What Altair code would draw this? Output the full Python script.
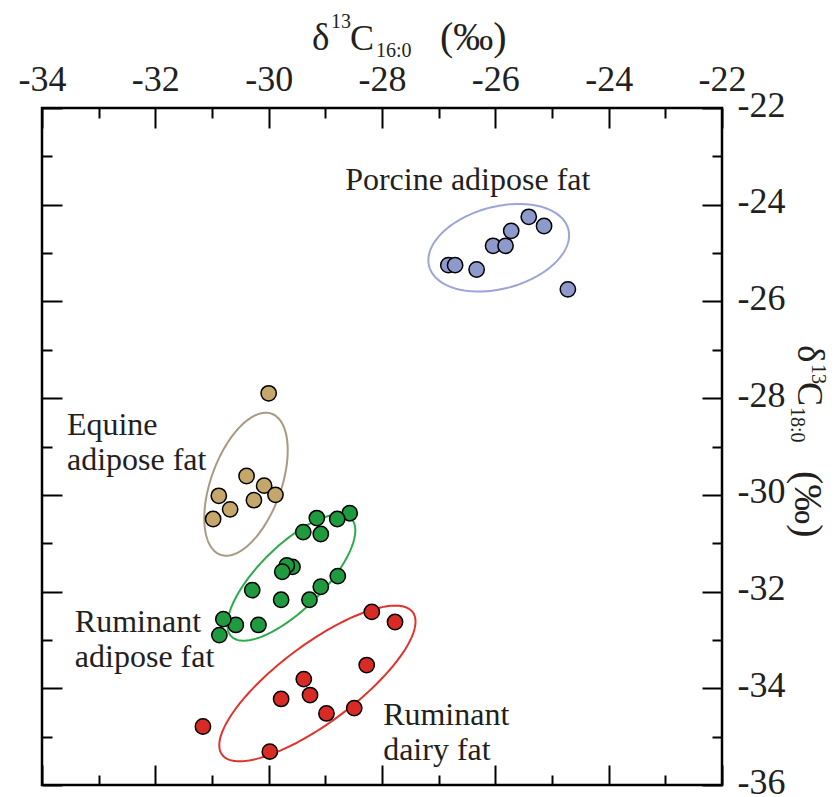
import altair as alt
import numpy as np
import pandas as pd

# ---------------- data ----------------
groups = ["Porcine adipose fat", "Equine adipose fat", "Ruminant adipose fat", "Ruminant dairy fat"]

porcine_x = [-26.83, -26.71, -26.33, -26.04, -25.82, -25.72, -25.41, -25.14, -24.72]
porcine_y = [-25.25, -25.25, -25.34, -24.85, -24.85, -24.54, -24.25, -24.44, -25.75]

equine_x = [-30.00, -30.39, -30.08, -29.88, -30.26, -30.88, -30.68, -30.98]
equine_y = [-27.90, -29.61, -29.81, -30.00, -30.11, -30.02, -30.30, -30.50]

rum_adipose_x = [-28.57, -28.79, -29.15, -29.08, -29.39, -29.58, -29.68, -29.76, -28.78,
                 -29.08, -29.28, -29.78, -30.29, -30.18, -30.58, -30.80, -30.87]
rum_adipose_y = [-30.38, -30.50, -30.48, -30.81, -30.77, -31.49, -31.46, -31.59, -31.68,
                 -31.90, -32.17, -32.17, -31.97, -32.69, -32.69, -32.57, -32.90]

rum_dairy_x = [-28.18, -27.77, -28.27, -29.38, -29.27, -29.78, -28.98, -28.49, -31.16, -29.98]
rum_dairy_y = [-32.42, -32.63, -33.52, -33.81, -34.14, -34.22, -34.52, -34.41, -34.79, -35.31]

# confidence ellipses: centre (data units), semi-axes (screen px), rotation (deg, screen)
ell_cx = [-25.94, -30.40, -29.60, -29.14]
ell_cy = [-24.89, -29.78, -31.71, -33.90]
ell_a = [72, 75, 84, 119]
ell_b = [41, 35, 32, 39]
ell_rot = [15, 70, 44.5, 36.8]

label_text = ["Porcine adipose fat", "Equine", "adipose fat", "Ruminant", "adipose fat", "Ruminant", "dairy fat"]
label_x = [-28.65, -33.56, -33.56, -33.42, -33.42, -27.98, -27.98]
label_y = [-23.70, -28.76, -29.49, -32.84, -33.56, -34.76, -35.48]

x_ticks_major = list(range(-34, -21, 2))
y_ticks_major = list(range(-36, -21, 2))
x_ticks_all = list(range(-34, -21))
y_ticks_all = list(range(-36, -21))

fill_colors = ["#8e99cc", "#c5a66b", "#1f9a3f", "#d92b26"]
line_colors = ["#9ba5d7", "#a89a84", "#2bab4b", "#e2322c"]

# ---------------- layout ----------------
W, H = 680, 677
XDOM, YDOM = [-34, -22], [-36, -22]
PXX = W / (XDOM[1] - XDOM[0])
PXY = H / (YDOM[1] - YDOM[0])
FONT = "Liberation Serif"
INK = "#231f20"

pts = pd.concat([
    pd.DataFrame({"x": porcine_x, "y": porcine_y, "group": groups[0]}),
    pd.DataFrame({"x": equine_x, "y": equine_y, "group": groups[1]}),
    pd.DataFrame({"x": rum_adipose_x, "y": rum_adipose_y, "group": groups[2]}),
    pd.DataFrame({"x": rum_dairy_x, "y": rum_dairy_y, "group": groups[3]}),
], ignore_index=True)

rows = []
t = np.linspace(0, 2 * np.pi, 181)
for g, cx, cy, a, b, r in zip(groups, ell_cx, ell_cy, ell_a, ell_b, ell_rot):
    th = np.deg2rad(r)
    u, v = a * np.cos(t), b * np.sin(t)
    dx = u * np.cos(th) - v * np.sin(th)
    dy = u * np.sin(th) + v * np.cos(th)
    for i in range(len(t)):
        rows.append({"group": g, "i": i, "x": cx + dx[i] / PXX, "y": cy + dy[i] / PXY})
ell = pd.DataFrame(rows)

labels = pd.DataFrame({"label": label_text, "x": label_x, "y": label_y})

xscale = alt.Scale(domain=XDOM, nice=False, zero=False)
yscale = alt.Scale(domain=YDOM, nice=False, zero=False)

tick_size = {"condition": {"test": "datum.value % 2 === 0", "value": 20}, "value": 10}
hyphen_label = "datum.value < 0 ? '-' + abs(datum.value) : '' + datum.value"

common_tick = dict(labels=False, domain=False, grid=False, title=None, tickSize=tick_size,
                   tickWidth=2, tickColor="black")

xa_labels = alt.Axis(orient="top", values=x_ticks_major, ticks=False, domain=False, grid=False,
                     title=None, labelPadding=18, labelBaseline="alphabetic", labelFlush=False,
                     labelOverlap=False, labelBound=False, labelExpr=hyphen_label)
xa_top = alt.Axis(orient="bottom", offset=-H, values=x_ticks_all, **common_tick)
xa_bot = alt.Axis(orient="top", offset=-H, values=x_ticks_all, **common_tick)
ya_labels = alt.Axis(orient="right", values=y_ticks_major, ticks=False, domain=False, grid=False,
                     title=None, labelPadding=15, labelFlush=False, labelOverlap=False,
                     labelBound=False, labelExpr=hyphen_label, labelOffset=-3)
ya_right = alt.Axis(orient="left", offset=-W, values=y_ticks_all, **common_tick)
ya_left = alt.Axis(orient="right", offset=-W, values=y_ticks_all, **common_tick)

ellipses = alt.Chart(ell).mark_line(strokeWidth=2).encode(
    x=alt.X("x:Q", scale=xscale, axis=xa_top),
    y=alt.Y("y:Q", scale=yscale, axis=ya_right),
    detail="group:N",
    order="i:Q",
    color=alt.Color("group:N", scale=alt.Scale(domain=groups, range=line_colors), legend=None),
)

points = alt.Chart(pts).mark_circle(size=235, opacity=1, stroke="black", strokeWidth=1.5).encode(
    x=alt.X("x:Q", scale=xscale, axis=xa_labels),
    y=alt.Y("y:Q", scale=yscale, axis=ya_labels),
    fill=alt.Fill("group:N", scale=alt.Scale(domain=groups, range=fill_colors), legend=None),
)

texts = alt.Chart(labels).mark_text(font=FONT, fontSize=32, align="left", baseline="alphabetic",
                                    color=INK).encode(
    x=alt.X("x:Q", scale=xscale, axis=xa_bot),
    y=alt.Y("y:Q", scale=yscale, axis=ya_left),
    text="label:N",
)


def piece(txt, px, py, size, angle=0):
    return alt.Chart(alt.InlineData(values=[{"t": txt}])).mark_text(
        font=FONT, fontSize=size, align="left", baseline="alphabetic", angle=angle, color=INK
    ).encode(text="t:N", x=alt.value(px), y=alt.value(py))


title_top = [
    piece("δ", 270, -58, 37),
    piece("13", 289, -80, 20),
    piece("C", 308, -58, 36),
    piece("16:0", 334, -51, 20),
    piece("(‰)", 398, -58, 40),
]
title_right = [
    piece("δ", 756, 237, 37, 90),
    piece("13", 770, 256, 20, 90),
    piece("C", 756, 274, 36, 90),
    piece("18:0", 749, 299, 20, 90),
    piece("(‰)", 753, 363, 40, 90),
]

chart = alt.layer(ellipses, points, texts, *title_top, *title_right).resolve_axis(
    x="independent", y="independent"
).properties(
    width=W, height=H,
    autosize=alt.AutoSizeParams(type="none"),
    padding={"left": 34, "top": 100, "right": 110, "bottom": 12},
).configure_view(stroke="black", strokeWidth=2.5).configure_axis(
    labelFont=FONT, labelFontSize=36, labelColor=INK, tickColor="black"
)

chart.save("out.html", embed_options={"renderer": "svg", "actions": False})
